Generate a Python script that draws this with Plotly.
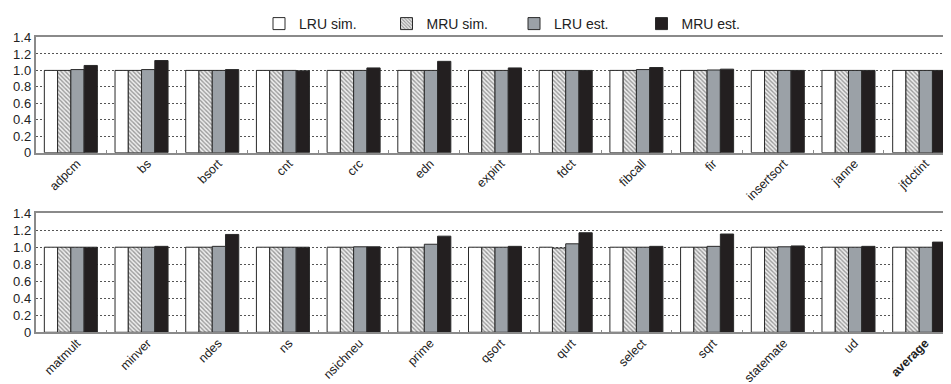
import plotly.graph_objects as go

series_names = ["LRU sim.", "MRU sim.", "LRU est.", "MRU est."]

top_cats = ["adpcm", "bs", "bsort", "cnt", "crc", "edn", "expint", "fdct",
            "fibcall", "fir", "insertsort", "janne", "jfdctint"]
top_lru_sim = [1.0, 1.0, 1.0, 1.0, 1.0, 1.0, 1.0, 1.0, 1.0, 1.0, 1.0, 1.0, 1.0]
top_mru_sim = [1.0, 1.0, 1.0, 1.0, 1.0, 1.0, 1.0, 1.0, 1.0, 1.0, 1.0, 1.0, 1.0]
top_lru_est = [1.01, 1.01, 1.0, 1.0, 1.0, 1.0, 1.0, 1.0, 1.01, 1.005, 1.0, 1.0, 1.0]
top_mru_est = [1.06, 1.12, 1.01, 0.995, 1.03, 1.11, 1.03, 1.0, 1.035, 1.015, 1.0, 1.0, 1.0]

bot_cats = ["matmult", "minver", "ndes", "ns", "nsichneu", "prime", "qsort",
            "qurt", "select", "sqrt", "statemate", "ud", "average"]
bot_labels = ["matmult", "minver", "ndes", "ns", "nsichneu", "prime", "qsort",
              "qurt", "select", "sqrt", "statemate", "ud", "<b>average</b>"]
bot_lru_sim = [1.0, 1.0, 1.0, 1.0, 1.0, 1.0, 1.0, 1.0, 1.0, 1.0, 1.0, 1.0, 1.0]
bot_mru_sim = [1.0, 1.0, 1.0, 1.0, 1.0, 1.0, 1.0, 0.99, 1.0, 1.0, 1.0, 1.0, 1.0]
bot_lru_est = [1.0, 1.0, 1.01, 1.0, 1.005, 1.035, 1.0, 1.04, 1.0, 1.01, 1.005, 1.0, 1.0]
bot_mru_est = [1.0, 1.01, 1.15, 1.0, 1.005, 1.13, 1.01, 1.17, 1.01, 1.155, 1.015, 1.01, 1.06]

ytick_vals = [0, 0.2, 0.4, 0.6, 0.8, 1.0, 1.2, 1.4]
ytick_text = ["0", "0.2", "0.4", "0.6", "0.8", "1.0", "1.2", "1.4"]

OUTLINE = "#2a2a2a"
FONT = "Liberation Sans, Arial, sans-serif"
styles = [
    dict(color="white"),
    dict(color="#eeeeee", pattern=dict(shape="\\", fgcolor="#444444", bgcolor="#eeeeee",
                                       size=3, solidity=0.45)),
    dict(color="#9ba1a7"),
    dict(color="#231f20"),
]

fig = go.Figure()
top_data = [top_lru_sim, top_mru_sim, top_lru_est, top_mru_est]
bot_data = [bot_lru_sim, bot_mru_sim, bot_lru_est, bot_mru_est]


def mk(st):
    m = dict(color=st["color"], line=dict(color=OUTLINE, width=1))
    if "pattern" in st:
        m["pattern"] = st["pattern"]
    return m


for i, name in enumerate(series_names):
    fig.add_trace(go.Bar(x=top_cats, y=top_data[i], name=name, marker=mk(styles[i]),
                         xaxis="x", yaxis="y", legendgroup=name, showlegend=True))
for i, name in enumerate(series_names):
    fig.add_trace(go.Bar(x=bot_cats, y=bot_data[i], name=name, marker=mk(styles[i]),
                         xaxis="x2", yaxis="y2", legendgroup=name, showlegend=False))

# page body has an 8px margin, so the figure starts at (8, 8) of the window
OFF = 8
W, H = 951 - OFF, 384 - OFF


def px_x(x):
    return (x - OFF) / W


def px_y(y):
    return 1 - (y - OFF) / H


xdom = [px_x(35.5), 1.0]
xr = [-0.5, 12.45]

common_x = dict(domain=xdom, range=xr, type="category", showline=True, linecolor="#8a8a8a",
                linewidth=1.5, mirror=True, ticks="inside", tickson="boundaries", ticklen=3,
                tickcolor="#8a8a8a", tickangle=-45, showgrid=False, automargin=False,
                ticklabelshift=6, ticklabelstandoff=-3,
                tickfont=dict(family=FONT, size=12.5, color="#222222"))
common_y = dict(range=[0, 1.4], tickvals=ytick_vals, ticktext=ytick_text, showline=True,
                linecolor="#8a8a8a", linewidth=1.5, showgrid=True, gridcolor="#555555",
                griddash="2px,2px", gridwidth=1, zeroline=False, ticks="", automargin=False,
                tickfont=dict(family=FONT, size=13, color="#222222"))

fig.update_layout(
    width=W, height=H,
    margin=dict(l=0, r=0, t=0, b=0),
    paper_bgcolor="white", plot_bgcolor="white",
    font=dict(family=FONT, size=12, color="#222222"),
    barmode="group", bargap=0.25, bargroupgap=0,
    xaxis=dict(anchor="y", **common_x),
    yaxis=dict(domain=[px_y(147), px_y(29)], anchor="x", **common_y),
    xaxis2=dict(anchor="y2", ticktext=bot_labels, tickvals=bot_cats, **common_x),
    yaxis2=dict(domain=[px_y(331), px_y(209)], anchor="x2", **common_y),
    legend=dict(orientation="h", x=px_x(259), y=px_y(15), xanchor="left", yanchor="middle",
                font=dict(family=FONT, size=14, color="#222222"),
                entrywidth=82.5, entrywidthmode="pixels", bgcolor="rgba(0,0,0,0)"),
)

fig.write_html("out.html")
